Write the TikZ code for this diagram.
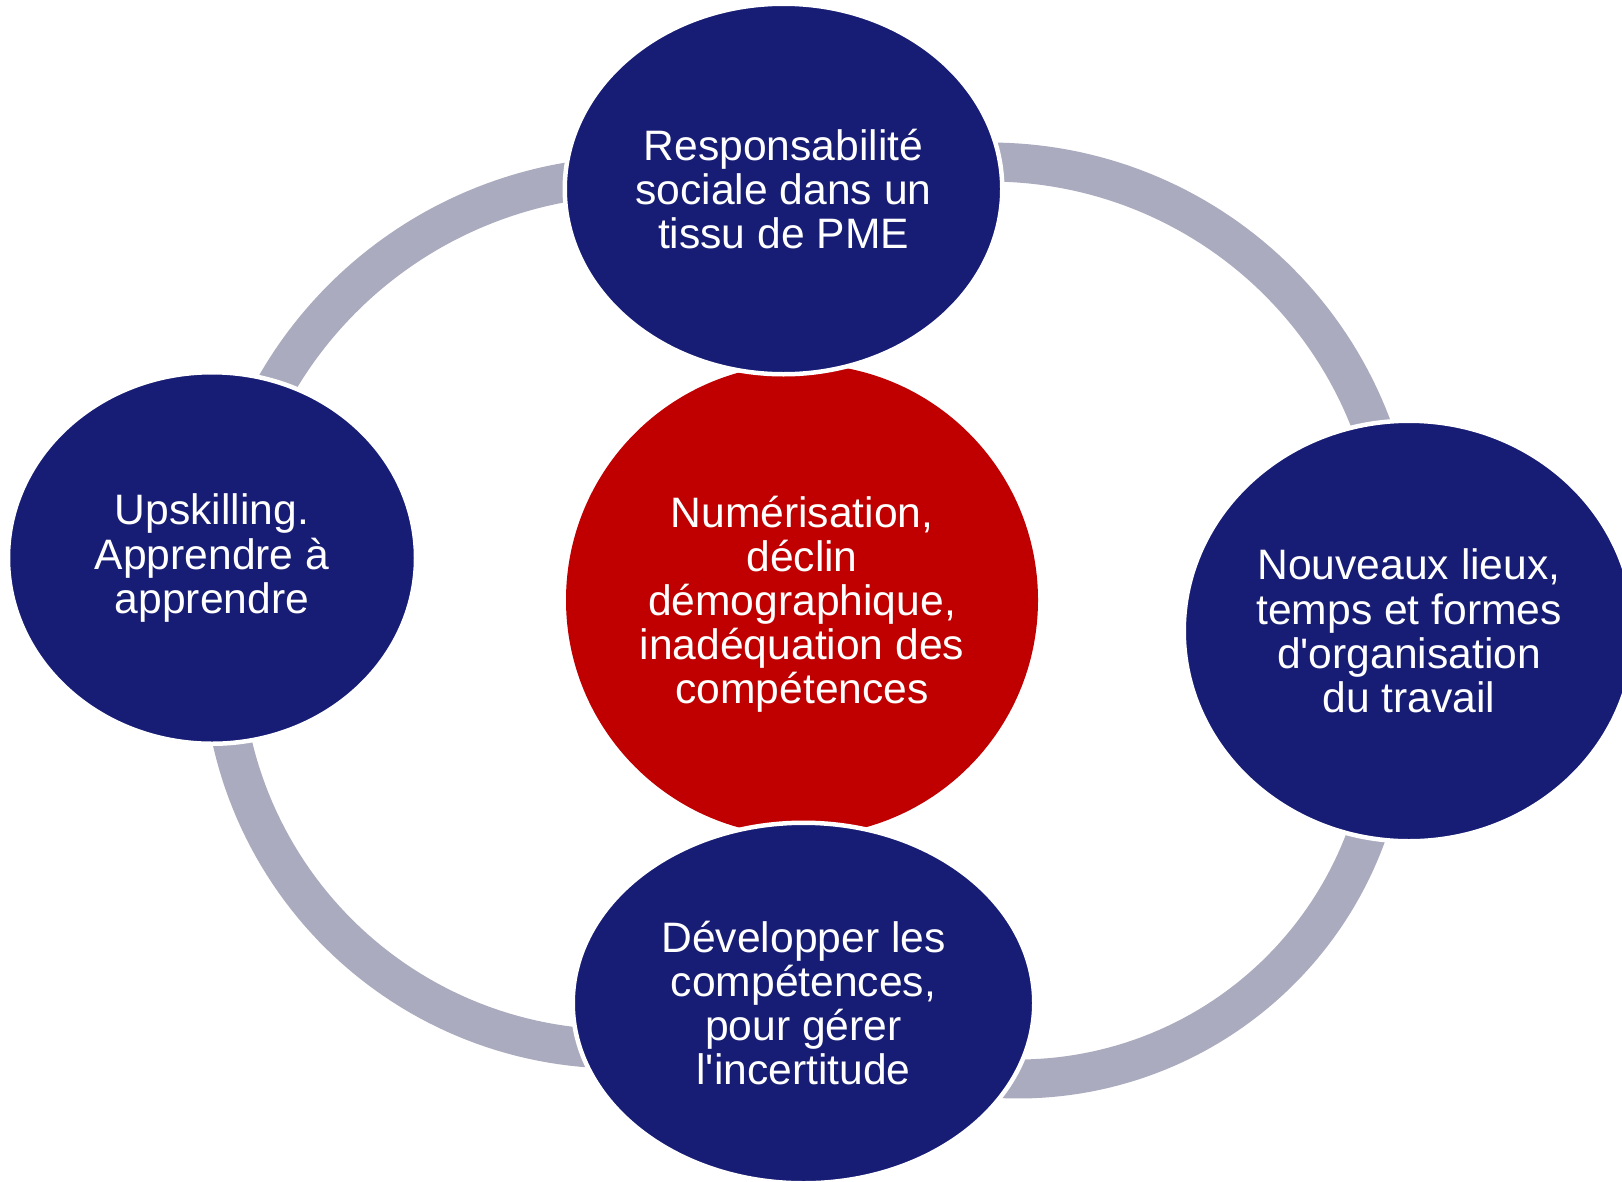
\documentclass[tikz,border=0pt]{standalone}
\usepackage{fontspec}
\setmainfont{Liberation Sans}[Ligatures=TeXOff]
\usetikzlibrary{shapes.geometric}
\definecolor{navy}{RGB}{23,28,116}
\definecolor{cred}{RGB}{192,0,0}
\definecolor{ringgray}{RGB}{170,171,190}
\tikzset{
  bluenode/.style={ellipse, fill=navy, draw=white, line width=4.5pt, text=white,
    align=center, inner sep=0pt, font=\fontsize{42.6}{44.2}\selectfont},
  rednode/.style={circle, fill=cred, text=white, align=center, inner sep=0pt,
    minimum size=472pt, font=\fontsize{42.6}{44.2}\selectfont},
  ringarc/.style={draw=ringgray, line width=39pt, line cap=butt},
}
\begin{document}
\begin{tikzpicture}[x=1pt,y=-1pt]
\useasboundingbox (0,0) rectangle (1622,1181);
% ring arcs
\draw[ringarc] plot[domain=-157:-93, samples=60, variable=\t] ({638+418*cos(\t)},{594+418*sin(\t)});
\draw[ringarc] plot[domain=-96:-14, samples=60, variable=\t] ({990+408*cos(\t)},{570+408*sin(\t)});
\draw[ringarc] plot[domain=13:98, samples=60, variable=\t] ({1018+371*cos(\t)},{708+371*sin(\t)});
\draw[ringarc] plot[domain=88:174, samples=60, variable=\t] ({618+396*cos(\t)},{653+396*sin(\t)});
% center
\node[rednode] (center) at (802,600) {\rule{0pt}{40pt}Numérisation,\\déclin\\démographique,\\inadéquation des\\compétences};
% outer nodes
\node[bluenode, minimum width=437.5pt, minimum height=370.5pt] (top) at (783.5,189)
  {Responsabilité\\sociale dans un\\tissu de PME};
\node[bluenode, minimum width=408pt, minimum height=371.5pt] (left) at (212,558)
  {Upskilling.\\Apprendre à\\apprendre};
\node[bluenode, minimum width=450.5pt, minimum height=420.5pt] (right) at (1409,631)
  {Nouveaux lieux,\\temps et formes\\d'organisation\\du travail};
\node[bluenode, minimum width=461.5pt, minimum height=360.5pt] (bottom) at (803.5,1003)
  {Développer les\\compétences,\\pour gérer\\l'incertitude};
\end{tikzpicture}
\end{document}
